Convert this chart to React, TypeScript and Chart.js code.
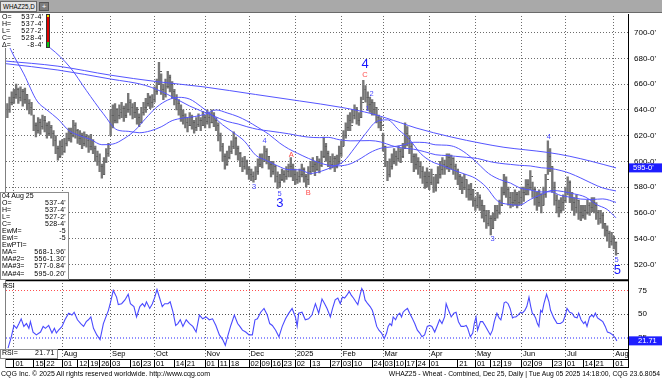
import React, { useEffect, useRef } from 'react';
import { Chart, registerables } from 'chart.js';

Chart.register(...registerables);

const FONT = "'Liberation Sans', Arial, sans-serif";

// trading-day index: 0 = 01 Jul 2024, 274 = 04 Aug 2025
const firstIndex = -3;

const highs = [
  645, 650, 654,
  656, 660, 657, 658,
  656, 657, 652, 648, 646,
  636, 630, 634, 633, 636,
  635, 630, 631, 628, 624,
  620, 612, 616, 617, 618,
  622, 626, 626, 632, 630,
  625, 624, 622, 623, 621,
  620, 621, 617, 612, 608,
  606, 598, 603, 610, 614,
  640, 644, 645, 641,
  644, 646, 643, 645, 653,
  648, 645, 646, 642, 637,
  642, 646, 649, 653, 651,
  652, 658, 664, 677, 668,
  660, 664, 670, 667, 662,
  656, 652, 648, 644, 640,
  637, 634, 638, 636, 632,
  634, 637, 634, 639, 636,
  640, 638, 640, 638, 634,
  630, 622, 614, 606, 608,
  612, 616, 623, 619, 612,
  607, 603, 604, 601,
  596, 594, 592, 596, 602,
  606, 606, 612, 610, 604,
  600, 600, 597, 592, 590,
  594, 593, 596, 598,
  603, 598, 594, 592,
  594, 598, 595, 590, 596,
  600, 603, 600, 604, 602,
  608, 619, 614, 608,
  604, 606, 604, 605, 612,
  616, 624, 630, 636, 638,
  640, 644, 642, 638, 650,
  663, 659, 654, 650,
  648, 646, 642, 636, 634,
  622, 612, 600, 602, 606,
  610, 608, 612, 610, 614,
  630, 627, 620, 614, 606,
  606, 603, 600, 596, 592,
  595, 592, 594, 588, 590,
  596, 600, 603, 601, 606,
  606, 605, 603, 598,
  594, 590, 588, 590, 586,
  582, 583, 578, 572, 576,
  574, 570, 566, 562, 562,
  558, 560, 566, 566, 570,
  580, 590, 588, 580, 576,
  576, 578, 576, 577,
  580, 580, 586, 586, 593,
  584, 580, 576, 578, 575,
  580, 590, 616, 610,
  596, 584, 574, 570, 572,
  574, 580, 588, 585,
  576, 572, 574, 570, 566,
  566, 566, 570, 568, 572,
  572, 568, 562, 562, 560,
  552, 550, 546, 545, 542,
  537.5,
];

const lows = [
  634, 638, 644,
  645, 649, 645, 647,
  643, 645, 640, 637, 636,
  624, 619, 622, 621, 625,
  623, 618, 620, 618, 612,
  606, 601, 603, 605, 607,
  612, 616, 615, 619, 618,
  614, 613, 610, 612, 611,
  607, 609, 606, 600, 597,
  592, 587, 590, 599, 604,
  620, 626, 630, 630,
  633, 634, 631, 634, 638,
  636, 633, 634, 629, 627,
  630, 636, 638, 643, 641,
  642, 646, 652, 660, 652,
  648, 650, 657, 654, 649,
  644, 640, 636, 631, 629,
  626, 623, 628, 625, 622,
  624, 627, 624, 628, 626,
  629, 626, 630, 627, 624,
  616, 608, 600, 594, 597,
  602, 606, 610, 605, 601,
  596, 592, 594, 590,
  586, 585, 584, 586, 590,
  596, 595, 600, 598, 594,
  588, 590, 584, 579, 580,
  585, 584, 586, 588,
  588, 585, 582, 583,
  584, 588, 584, 580, 582,
  590, 592, 589, 593, 591,
  596, 603, 600, 596,
  594, 595, 592, 595, 598,
  604, 612, 618, 624, 624,
  630, 633, 629, 628, 634,
  648, 646, 640, 638,
  636, 636, 630, 626, 624,
  608, 596, 585, 588, 594,
  598, 597, 600, 599, 603,
  610, 612, 606, 599, 592,
  594, 590, 587, 583, 579,
  580, 578, 582, 576, 577,
  583, 587, 590, 590, 594,
  592, 594, 590, 586,
  582, 578, 575, 578, 572,
  570, 570, 565, 562, 564,
  562, 556, 553, 548, 550,
  543, 548, 554, 556, 559,
  566, 574, 572, 566, 564,
  565, 566, 564, 566,
  567, 569, 574, 574, 578,
  572, 566, 562, 565, 560,
  566, 572, 590, 592,
  576, 566, 560, 557, 560,
  562, 568, 574, 568,
  562, 558, 560, 555, 554,
  556, 555, 559, 558, 561,
  560, 555, 551, 552, 548,
  542, 538, 533, 535, 532,
  527.25,
];

const closes = [
  640, 646, 650,
  652, 656, 650, 654,
  648, 652, 645, 642, 640,
  628, 624, 630, 627, 632,
  628, 622, 626, 622, 616,
  610, 604, 612, 608, 614,
  618, 622, 620, 628, 624,
  618, 620, 614, 619, 616,
  612, 616, 610, 604, 600,
  596, 590, 600, 606, 610,
  636, 632, 640, 636,
  638, 641, 636, 640, 646,
  642, 638, 640, 634, 630,
  638, 642, 645, 650, 646,
  648, 654, 660, 670, 656,
  652, 658, 665, 660, 654,
  648, 645, 640, 636, 634,
  630, 628, 634, 630, 626,
  629, 632, 628, 634, 631,
  634, 630, 636, 632, 628,
  620, 612, 604, 598, 603,
  608, 612, 618, 610, 606,
  600, 596, 600, 594,
  590, 588, 586, 592, 598,
  602, 600, 608, 604, 598,
  592, 596, 588, 584, 586,
  590, 588, 592, 596,
  594, 590, 586, 588,
  590, 594, 588, 586, 592,
  596, 598, 594, 600, 597,
  604, 612, 606, 600,
  598, 602, 596, 600, 606,
  612, 620, 626, 632, 628,
  636, 640, 632, 634, 646,
  656, 650, 644, 646,
  640, 642, 634, 630, 628,
  612, 600, 590, 596, 600,
  604, 602, 608, 604, 610,
  622, 618, 612, 604, 598,
  600, 596, 592, 588, 584,
  588, 584, 590, 580, 584,
  590, 594, 598, 596, 603,
  598, 602, 596, 592,
  588, 584, 580, 586, 578,
  574, 578, 570, 566, 572,
  566, 562, 558, 552, 556,
  548, 556, 562, 560, 566,
  576, 584, 578, 572, 568,
  570, 574, 568, 572,
  576, 574, 582, 580, 588,
  578, 572, 568, 574, 566,
  574, 586, 604, 596,
  580, 570, 564, 562, 568,
  570, 576, 584, 572,
  568, 564, 570, 560, 558,
  562, 560, 566, 564, 568,
  566, 560, 556, 558, 552,
  546, 544, 538, 540, 537,
  528.5,
];

// moving averages (index, value)
const maIdx = [-4, 5, 16.6, 25.6, 33, 40.7, 47, 52, 57, 62, 67, 72, 77, 82, 87, 92, 97, 102, 106, 111, 116, 121, 125, 129, 134, 139, 143, 148, 153, 158, 162, 167, 172, 177, 182, 187, 192, 197, 201, 206, 211, 216, 221, 226, 230, 235, 240, 244, 249, 253, 258, 263, 268, 274];
const maVal = [712, 700, 688, 673, 655, 637, 624.5, 623.4, 622.3, 623.7, 626.9, 631.7, 633.7, 634.8, 636.7, 640, 637.7, 634.8, 631.5, 626.5, 621.1, 614.2, 609.8, 606.4, 602.4, 599, 597.1, 596.6, 598.1, 602.5, 606.8, 610.3, 611.3, 612.7, 614.9, 614.7, 612.9, 612.6, 611.1, 606, 598.6, 590.7, 586, 583.2, 579.6, 577.8, 576.3, 576.5, 573.5, 572.3, 570.8, 570.5, 570.9, 568.2];

const ma2Idx = [-4, -1.5, 4.5, 10.5, 15, 20, 25, 30, 35, 40, 45, 50, 55, 60, 65, 70, 75, 80, 85, 90, 95, 100, 105, 110, 115, 120, 125, 130, 135, 140, 145, 150, 155, 160, 165, 170, 175, 180, 185, 190, 195, 200, 205, 210, 215, 220, 225, 230, 235, 240, 245, 250, 255, 260, 265, 270, 274];
const ma2Val = [698, 687, 668, 647, 640, 633, 624, 620, 617, 613, 613.5, 617.6, 624, 633.5, 642.2, 647.7, 649.8, 648.4, 642.8, 636, 628.4, 622.3, 615.6, 604.9, 600.7, 596.6, 593.6, 593.5, 590.7, 592.5, 595.8, 600, 610.4, 621.6, 631, 632.3, 624.7, 617.1, 606.3, 600, 596.8, 593.3, 590.3, 586.9, 580, 569.4, 566.7, 566, 570.5, 574.3, 577.5, 576.6, 574.8, 572.4, 566.6, 562.7, 556.2];

const ma3Idx = [-4, 20, 44, 60, 70, 80, 90, 97, 102, 106, 111, 116, 121, 125, 129, 134, 139, 143, 148, 153, 158, 162, 167, 172, 177, 182, 187, 192, 197, 201, 206, 211, 216, 221, 226, 230, 235, 240, 244, 249, 253, 258, 263, 268, 274];
const ma3Val = [676, 671, 664, 659, 652, 643, 636, 631.1, 629.1, 627, 624.9, 623.7, 622.5, 621.5, 620.2, 618.9, 618.5, 618.7, 616.9, 616, 616.1, 616.2, 615.1, 612.2, 610.4, 609.5, 607.5, 605.2, 604.6, 604, 603.2, 602.3, 600.1, 598.6, 597.7, 597, 596.5, 595.1, 594.6, 592.9, 590.8, 587.1, 583, 579.4, 577.1];

const ma4Idx = [-4, 20, 44, 65, 86, 110, 130, 149, 163, 176, 183, 199, 213, 223, 233, 243, 253, 263, 274];
const ma4Val = [678, 674, 667, 662, 658, 652, 647, 642, 637, 630, 626, 619, 614, 611, 609, 607, 604, 600, 595];

const rsiIdx = [-2.7, -1.2, 0, 1.2, 2.3, 3.3, 4.5, 5.7, 6.8, 7.5, 8.7, 10.2, 12.1, 13.3, 14.3, 15.8, 17.3, 18.4, 19.3, 20.3, 21.9, 23.2, 24.9, 26.4, 27.4, 28.9, 30.4, 31.7, 32.9, 33.9, 35, 36.2, 37.7, 39.2, 40.7, 43, 44, 45.2, 46.7, 47.5, 49, 50.5, 52, 53, 54.6, 55.8, 57.3, 58.5, 59.5, 60.3, 61.8, 63, 64.1, 65.1, 66.3, 67.5, 68.6, 70.1, 71.1, 72.4, 73.6, 74.6, 75.7, 76.9, 78.4, 79.9, 81.4, 82.9, 84.4, 85.9, 87.4, 88.9, 90.4, 91.9, 93.5, 95, 96.2, 97.2, 98.7, 100.3, 101.8, 102.8, 104, 105.5, 107, 108.5, 109.7, 110.8, 112.3, 113.8, 115.3, 116.4, 117.6, 119.1, 120.6, 122.1, 123.6, 125.1, 126.6, 128.1, 128.9, 129.6, 131.1, 132.6, 134.1, 135.6, 137.2, 138.7, 140.2, 141.4, 142.5, 144, 145, 146.2, 147.4, 148.5, 149.5, 150.5, 151.5, 152.6, 153.5, 154.5, 155.6, 156.5, 157.5, 158.3, 159, 159.8, 161, 162.1, 163.1, 164, 165.1, 166.1, 167.3, 168.5, 169.6, 170.3, 171.1, 171.9, 172.6, 173.7, 174.6, 175.6, 176.4, 177.1, 177.9, 179.1, 180.1, 181.2, 182.4, 183.6, 184.7, 185.7, 186.9, 188.1, 189.2, 190.2, 191.5, 192.7, 193.7, 194.8, 196, 196.7, 197.8, 199, 200.2, 201.2, 202.3, 203.5, 204.7, 205.8, 206.5, 207.7, 208.8, 209.5, 210.3, 211, 212.3, 213.3, 214.4, 215.6, 216.8, 217.8, 218.6, 219.8, 220.8, 221.6, 222.4, 223.1, 223.9, 224.9, 225.8, 226.9, 227.6, 228.4, 229.4, 230.6, 231.4, 232.5, 233.4, 234.4, 235.2, 235.9, 236.7, 237.4, 238.2, 238.9, 239.7, 240.4, 241.2, 242.4, 243.5, 244.2, 245.7, 247.2, 248.7, 249.9, 251, 251.7, 252.9, 254, 255.1, 256.3, 257, 258.1, 259.3, 260, 260.8, 262, 263.1, 263.8, 264.6, 265.6, 266.8, 268, 269.1, 270.1, 271.3, 272.5, 273.6, 274.4];
const rsiVal = [14, 26, 38, 35, 40, 45, 37, 40, 35, 42, 31, 28, 31, 37, 35, 38, 30, 35, 30, 33, 37, 44, 51, 49, 52, 44, 40, 37, 42, 44, 47, 35, 28, 23, 40, 54, 63, 75, 68, 60, 61, 65, 71, 61, 58, 47, 58, 61, 58, 63, 56, 61, 68, 76, 67, 58, 61, 61, 63, 52, 38, 40, 44, 37, 44, 40, 37, 31, 49, 45, 47, 44, 45, 38, 28, 23, 17, 26, 38, 49, 40, 37, 33, 31, 28, 28, 44, 45, 52, 56, 49, 40, 38, 33, 26, 37, 45, 51, 56, 47, 37, 51, 52, 44, 45, 49, 61, 51, 66, 61, 56, 47, 56, 65, 67, 61, 68, 67, 70, 74, 70, 67, 63, 60, 70, 77, 74, 65, 61, 58, 54, 47, 37, 33, 30, 24, 30, 37, 40, 38, 47, 44, 49, 51, 47, 52, 54, 56, 51, 46, 40, 33, 30, 26, 28, 37, 38, 37, 31, 38, 44, 40, 47, 61, 54, 47, 51, 52, 42, 37, 37, 38, 35, 26, 30, 40, 47, 33, 42, 42, 38, 33, 28, 33, 42, 51, 46, 44, 52, 62, 63, 61, 56, 46, 47, 47, 49, 52, 51, 54, 58, 68, 58, 51, 49, 46, 40, 37, 54, 52, 61, 71, 63, 54, 46, 40, 40, 42, 49, 56, 52, 51, 47, 46, 51, 44, 40, 42, 37, 47, 49, 47, 51, 46, 44, 42, 37, 31, 30, 28, 25, 21.71];

// axis ticks and labels
const priceTicks = [520, 540, 560, 580, 600, 620, 640, 660, 680, 700];
const rsiTicks = [25, 50, 75];
const monthTickIdx = [0, 22, 44, 64, 87, 107, 128, 149, 168, 189, 210, 231, 251, 273];
const monthLabels = ['', 'Aug', 'Sep', 'Oct', 'Nov', 'Dec', '2025', 'Feb', 'Mar', 'Apr', 'May', 'Jun', 'Jul', 'Aug'];
const dayTickIdx = [0, 9, 14, 22, 29, 34, 39, 44, 53, 58, 64, 73, 78, 87, 93, 98, 107, 112, 117, 122, 128, 135, 144, 149, 154, 163, 168, 173, 178, 183, 189, 202, 210, 217, 222, 231, 236, 245, 251, 259, 264, 273];
const dayLabels = ['01', '15', '22', '01', '12', '19', '26', '03', '16', '23', '01', '14', '21', '01', '11', '18', '02', '09', '16', '23', '02', '13', '27', '03', '10', '24', '03', '10', '17', '24', '01', '21', '01', '12', '19', '02', '09', '23', '01', '14', '21', '01'];

// wave labels (text, index, price, kind)
const waveText = ['3', '4', '5', '3', 'A', 'B', '4', 'C', '2', '1', '3', '4', '5', '5'];
const waveIdx = [109.3, 114.1, 120.9, 121, 126.2, 133.9, 159.8, 159.8, 162.8, 161, 217.8, 243.4, 274.3, 274.6];
const wavePrice = [580, 616.3, 575, 567.2, 605.2, 575.8, 675.1, 667.4, 652.4, 640.8, 540, 619.4, 523.3, 515.6];
const waveKind = ['s', 's', 's', 'b', 'r', 'r', 'b', 'r', 's', 's', 's', 's', 's', 'b'];

const X_MIN = -4.07, X_MAX = 279.46;
const Y_MIN = 507.8, Y_MAX = 713.9;
const R_MIN = 13.1, R_MAX = 85.9;

const pts = (xs: number[], ys: number[]) => xs.map((x, k) => ({ x, y: ys[k] }));

export default function App() {
  const ref = useRef<HTMLCanvasElement>(null);

  useEffect(() => {
    const canvas = ref.current!;
    const tick = document.createElement('canvas');
    tick.width = 6; tick.height = 1;
    const tc = tick.getContext('2d')!;
    tc.fillStyle = '#606060';
    tc.fillRect(4, 0, 2, 1);

    // dotted grid drawn as explicit 1px dots, positioned by the chart's scales
    const dotsH = (ctx: any, x1: number, x2: number, y: number, color: string, h: number) => {
      ctx.fillStyle = color;
      const yy = Math.round(y - h / 2);
      for (let x = Math.ceil(x1) + 1; x < x2; x += 3) ctx.fillRect(x, yy, 1, h);
    };
    const dotsV = (ctx: any, x: number, y1: number, y2: number, color: string) => {
      ctx.fillStyle = color;
      const xx = Math.round(x - 0.5);
      for (let y = Math.ceil(y1) + 1; y < y2; y += 3) ctx.fillRect(xx, y, 1, 1);
    };

    const overlay = {
      id: 'overlay',
      beforeDatasetsDraw(chart: any) {
        const { ctx, chartArea, scales } = chart;
        const xs = scales.x, ys = scales.y, yr = scales.yr;
        ctx.save();
        monthTickIdx.forEach((v) => dotsV(ctx, xs.getPixelForValue(v), chartArea.top, chartArea.bottom, '#6c6c6c'));
        priceTicks.forEach((v) => dotsH(ctx, chartArea.left, chartArea.right, ys.getPixelForValue(v), '#6c6c6c', 1));
        dotsH(ctx, chartArea.left, chartArea.right, yr.getPixelForValue(75), '#ff5050', 1);
        dotsH(ctx, chartArea.left, chartArea.right, yr.getPixelForValue(50), '#505050', 1);
        dotsH(ctx, chartArea.left, chartArea.right, yr.getPixelForValue(25), '#9090ff', 2);
        ctx.restore();
      },
      afterDatasetsDraw(chart: any) {
        const { ctx, scales } = chart;
        const xs = scales.x, ys = scales.y;
        ctx.save();
        ctx.textAlign = 'center';
        ctx.textBaseline = 'middle';
        waveText.forEach((t, k) => {
          const kind = waveKind[k];
          ctx.fillStyle = kind === 'r' ? '#ff4a4a' : kind === 'b' ? '#1515ff' : '#4848ff';
          ctx.font = kind === 'b' ? `13px ${FONT}` : `7.5px ${FONT}`;
          ctx.fillText(t, xs.getPixelForValue(waveIdx[k]), ys.getPixelForValue(wavePrice[k]));
        });
        ctx.restore();
      },
      afterDraw(chart: any) {
        const { ctx, chartArea, scales } = chart;
        const ys = scales.y, yr = scales.yr, xd = scales.xd;
        ctx.save();
        ctx.strokeStyle = '#000';
        ctx.lineWidth = 2;
        ctx.beginPath();
        ctx.moveTo(chartArea.left, ys.bottom);
        ctx.lineTo(chartArea.right, ys.bottom);
        ctx.stroke();
        ctx.lineWidth = 1;
        ctx.beginPath();
        ctx.moveTo(chartArea.right + 0.5, chartArea.bottom);
        ctx.lineTo(chartArea.right + 0.5, xd.bottom);
        ctx.moveTo(chartArea.left, xd.bottom - 0.5);
        ctx.lineTo(chartArea.right, xd.bottom - 0.5);
        ctx.stroke();
        ctx.strokeStyle = '#808080';
        ctx.beginPath();
        ctx.moveTo(chartArea.left + 0.5, chartArea.top);
        ctx.lineTo(chartArea.left + 0.5, xd.bottom);
        ctx.stroke();
        const box = (py: number, text: string, tx: number) => {
          ctx.fillStyle = '#1e1eff';
          ctx.fillRect(chartArea.right + 1, py - 4.5, 662 - chartArea.right - 1, 9);
          ctx.fillStyle = '#fff';
          ctx.font = `7.5px ${FONT}`;
          ctx.textAlign = 'left';
          ctx.textBaseline = 'middle';
          ctx.fillText(text, tx, py + 0.5);
        };
        box(ys.getPixelForValue(ma4Val[ma4Val.length - 1]), "595-0'", chartArea.right + 5);
        box(yr.getPixelForValue(rsiVal[rsiVal.length - 1]), '21.71', chartArea.right + 10);
        ctx.restore();
      },
    };

    const axisFont = { family: FONT, size: 7.5 };
    const GRID = '#6c6c6c';
    const chart = new Chart(canvas, {
      type: 'line',
      data: {
        datasets: [
          {
            type: 'bar',
            data: highs.map((h, k) => ({ x: firstIndex + k, y: [lows[k], h] })) as any,
            backgroundColor: '#767676',
            barThickness: 1.7,
            borderWidth: 0,
            xAxisID: 'x', yAxisID: 'y',
            order: 6,
          } as any,
          {
            type: 'scatter',
            data: closes.map((c, k) => ({ x: firstIndex + k, y: c })),
            pointStyle: tick as any,
            pointRadius: 1,
            xAxisID: 'x', yAxisID: 'y',
            order: 5,
          } as any,
          ...[
            [ma4Idx, ma4Val], [ma3Idx, ma3Val], [maIdx, maVal], [ma2Idx, ma2Val],
          ].map(([ix, v]) => ({
            type: 'line',
            data: pts(ix as number[], v as number[]),
            borderColor: '#5555ff',
            borderWidth: 1,
            pointRadius: 0,
            fill: false,
            cubicInterpolationMode: 'monotone',
            xAxisID: 'x', yAxisID: 'y',
            order: 2,
          })) as any[],
          {
            type: 'line',
            data: pts(rsiIdx, rsiVal),
            borderColor: '#4a4aff',
            borderWidth: 1.1,
            pointRadius: 0,
            fill: false,
            tension: 0,
            xAxisID: 'x', yAxisID: 'yr',
            order: 1,
          } as any,
        ],
      },
      options: {
        responsive: false,
        animation: false,
        devicePixelRatio: 1,
        events: [],
        layout: { padding: { top: 14, left: 1, right: 0, bottom: 11 } },
        plugins: { legend: { display: false }, tooltip: { enabled: false } },
        scales: {
          x: {
            type: 'linear', axis: 'x', position: 'bottom', min: X_MIN, max: X_MAX, offset: false, weight: 0, bounds: 'data',
            afterBuildTicks: (s: any) => { s.ticks = monthTickIdx.map((v) => ({ value: v })); },
            afterFit: (s: any) => { s.height = 10; },
            ticks: {
              autoSkip: false, maxRotation: 0, minRotation: 0, align: 'start', labelOffset: 1.5, padding: -9.5,
              font: axisFont, color: '#000', callback: (_v: any, i: number) => monthLabels[i],
            },
            grid: { color: GRID, lineWidth: 1, drawOnChartArea: false, drawTicks: true, tickLength: 10, tickColor: GRID, tickBorderDash: [1, 2], offset: false },
            border: { display: true, color: '#000' },
          },
          xd: {
            type: 'linear', axis: 'x', position: 'bottom', min: X_MIN, max: X_MAX, offset: false, weight: 1, bounds: 'data',
            afterBuildTicks: (s: any) => { s.ticks = dayTickIdx.map((v) => ({ value: v })); },
            afterFit: (s: any) => { s.height = 9; },
            ticks: {
              autoSkip: false, maxRotation: 0, minRotation: 0, align: 'start', labelOffset: 1.5, padding: -9,
              font: axisFont, color: '#000', callback: (_v: any, i: number) => dayLabels[i],
            },
            grid: { drawOnChartArea: false, drawTicks: true, tickLength: 9, tickColor: '#000', tickWidth: 1, offset: false },
            border: { display: true, color: '#000' },
          },
          y: {
            type: 'linear', axis: 'y', position: 'right', min: Y_MIN, max: Y_MAX, stack: 'panels', stackWeight: 3.855, bounds: 'data',
            afterBuildTicks: (s: any) => { s.ticks = priceTicks.map((v) => ({ value: v })); },
            afterFit: (s: any) => { s.width = 34; },
            ticks: { autoSkip: false, padding: 6, font: { family: FONT, size: 8 }, color: '#000', callback: (v: any) => `${v}-0'` },
            grid: { drawOnChartArea: false, drawTicks: false },
            border: { display: true, color: '#000', width: 1 },
          },
          yr: {
            type: 'linear', axis: 'y', position: 'right', min: R_MIN, max: R_MAX, stack: 'panels', stackWeight: 1, bounds: 'data',
            afterBuildTicks: (s: any) => { s.ticks = rsiTicks.map((v) => ({ value: v })); },
            afterFit: (s: any) => { s.width = 34; },
            ticks: { autoSkip: false, padding: 10, font: { family: FONT, size: 8 }, color: '#000' },
            grid: { drawOnChartArea: false, drawTicks: false },
            border: { display: true, color: '#000', width: 1 },
          },
        } as any,
      },
      plugins: [overlay],
    } as any);
    return () => chart.destroy();
  }, []);

  const small: React.CSSProperties = { position: 'absolute', fontSize: 7, lineHeight: '8px', whiteSpace: 'nowrap', color: '#000' };
  const row = (top: number, left: number, width: number, a: string, b: string, key: string, ls = 0) => (
    <div key={key} style={{ ...small, top, left, width, display: 'flex', justifyContent: 'space-between' }}>
      <span>{a}</span><span style={{ letterSpacing: ls }}>{b}</span>
    </div>
  );

  const topRows: [string, string][] = [['O=', "537-4'"], ['H=', "537-4'"], ['L=', "527-2'"], ['C=', "528-4'"], ['Δ=', "-8-4'"]];
  const boxRows: [string, string][] = [
    ['O=', "537-4'"], ['H=', "537-4'"], ['L=', "527-2'"], ['C=', "528-4'"],
    ['EwM=', '-5'], ['EwI=', '-5'], ['EwPTI=', ''],
    ['MA=', "568-1.96'"], ['MA#2=', "556-1.30'"], ['MA#3=', "577-0.84'"], ['MA#4=', "595-0.20'"],
  ];

  return (
    <div style={{ position: 'fixed', left: 0, top: 0, width: 662, height: 379, background: '#fff', overflow: 'hidden', fontFamily: FONT }}>
      <canvas ref={ref} width={662} height={379} style={{ position: 'absolute', left: 0, top: 0, width: 662, height: 379 }} />
      {/* header */}
      <div style={{ position: 'absolute', left: 0, top: 0, width: 662, height: 13, background: '#a9a9a9', borderBottom: '1px solid #6a6a6a', boxSizing: 'border-box' }} />
      <div style={{ position: 'absolute', left: 0, top: 1, width: 37, height: 11, background: '#e4e4e4', border: '1px solid #6a6a6a', boxSizing: 'border-box', fontSize: 6.3, lineHeight: '9px', paddingLeft: 2, whiteSpace: 'nowrap', overflow: 'hidden' }}>WHAZ25,D</div>
      <div style={{ position: 'absolute', left: 39, top: 2, width: 10, height: 9, background: '#7c7c7c', border: '1px solid #555', boxSizing: 'border-box', fontSize: 8, lineHeight: '7px', color: '#fff', textAlign: 'center' }}>+</div>
      {/* top-left value box */}
      <div style={{ position: 'absolute', left: 2, top: 14, width: 44, height: 34, background: '#fff' }} />
      {topRows.map((r, k) => row(13 + k * 7, 2, 42, r[0], r[1], 't' + k, 0.6))}
      <div style={{ position: 'absolute', left: 46, top: 14, width: 4, height: 34, background: '#e00000', border: '0.5px solid #333', boxSizing: 'border-box' }}>
        <div style={{ position: 'absolute', left: 0, top: 0, width: '100%', height: 2, background: '#ffe000' }} />
        <div style={{ position: 'absolute', left: 0, bottom: 0, width: '100%', height: 5, background: '#10c010' }} />
      </div>
      {/* bottom-left data box */}
      <div style={{ position: 'absolute', left: 0, top: 192, width: 69, height: 88, background: '#fff', border: '1px solid #8c8c8c', boxSizing: 'border-box' }} />
      <div style={{ ...small, left: 2, top: 192 }}>04  Aug  25</div>
      {boxRows.map((r, k) => row(199 + k * 7.05, 2, 64, r[0], r[1], 'b' + k, 0.3))}
      {/* RSI labels */}
      <div style={{ ...small, left: 3, top: 282 }}>RSI</div>
      <div style={{ position: 'absolute', left: 0, top: 349, width: 58, height: 10, background: '#fff', border: '1px solid #8c8c8c', boxSizing: 'border-box' }} />
      {row(349, 2, 53, 'RSI=', '21.71', 'rsi', 0.5)}
      {/* footer */}
      <div style={{ ...small, left: 1, top: 370, fontSize: 7 }}>CQG Inc. © 2025 All rights reserved worldwide. http://www.cqg.com</div>
      <div style={{ ...small, right: 2, top: 370, fontSize: 6.8 }}>WHAZ25 - Wheat - Combined, Dec 25, Daily | Tue Aug 05 2025 14:18:00, CQG 23.6.8054</div>
    </div>
  );
}
